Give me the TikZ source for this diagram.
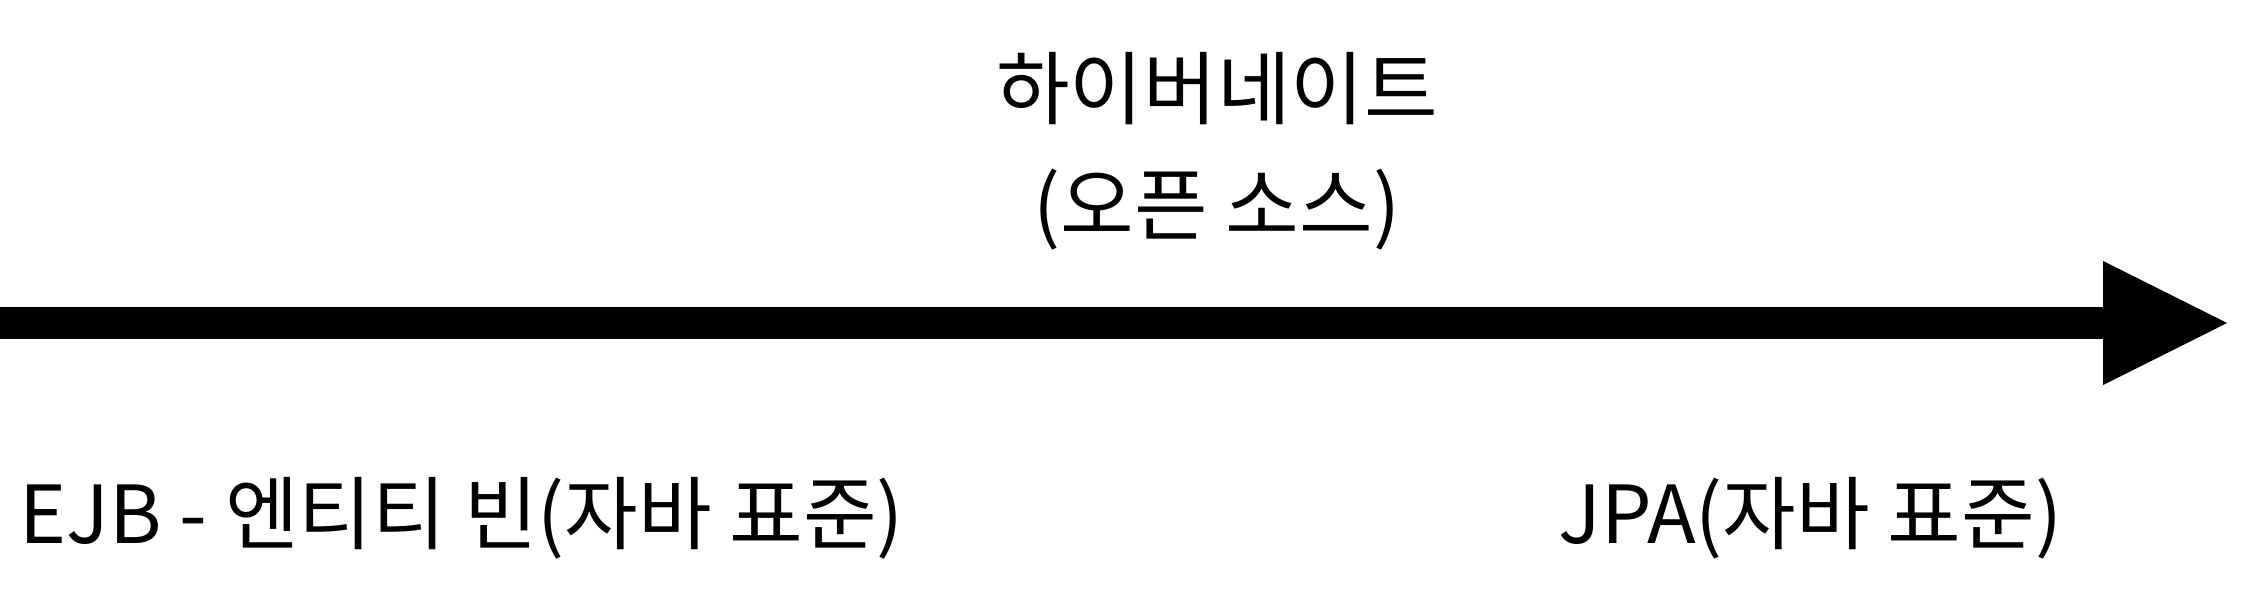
\documentclass[tikz,border=0pt]{standalone}
\usepackage{fontspec}
\setmainfont{Noto Sans CJK KR}
\usetikzlibrary{positioning}

\tikzset{
    label text/.style={font=\fontsize{80}{116}\selectfont, inner sep=0pt, align=center},
}

\begin{document}
\begin{tikzpicture}[x=1pt, y=-1pt]
            % Page
            \useasboundingbox (0,0) rectangle (2266,602);

            % Timeline arrow
            \coordinate (start) at (0,323);
            \coordinate (neck) at (2103,323);
            \coordinate (tip) at (2227,323);
            \draw[line width=32pt] (start) -- (neck);
            \fill ([yshift=62pt]neck) -- (tip) -- ([yshift=-62pt]neck) -- cycle;

            % Labels
            \node[label text] (hibernate) at (1217,151) {하이버네이트\\(오픈 소스)};
            \node[label text, anchor=west] (ejb) at (19,518) {EJB - 엔티티 빈(자바 표준)};
            \node[label text, anchor=west] (jpa) at (1558,518) {JPA(자바 표준)};
          \end{tikzpicture}
\end{document}
